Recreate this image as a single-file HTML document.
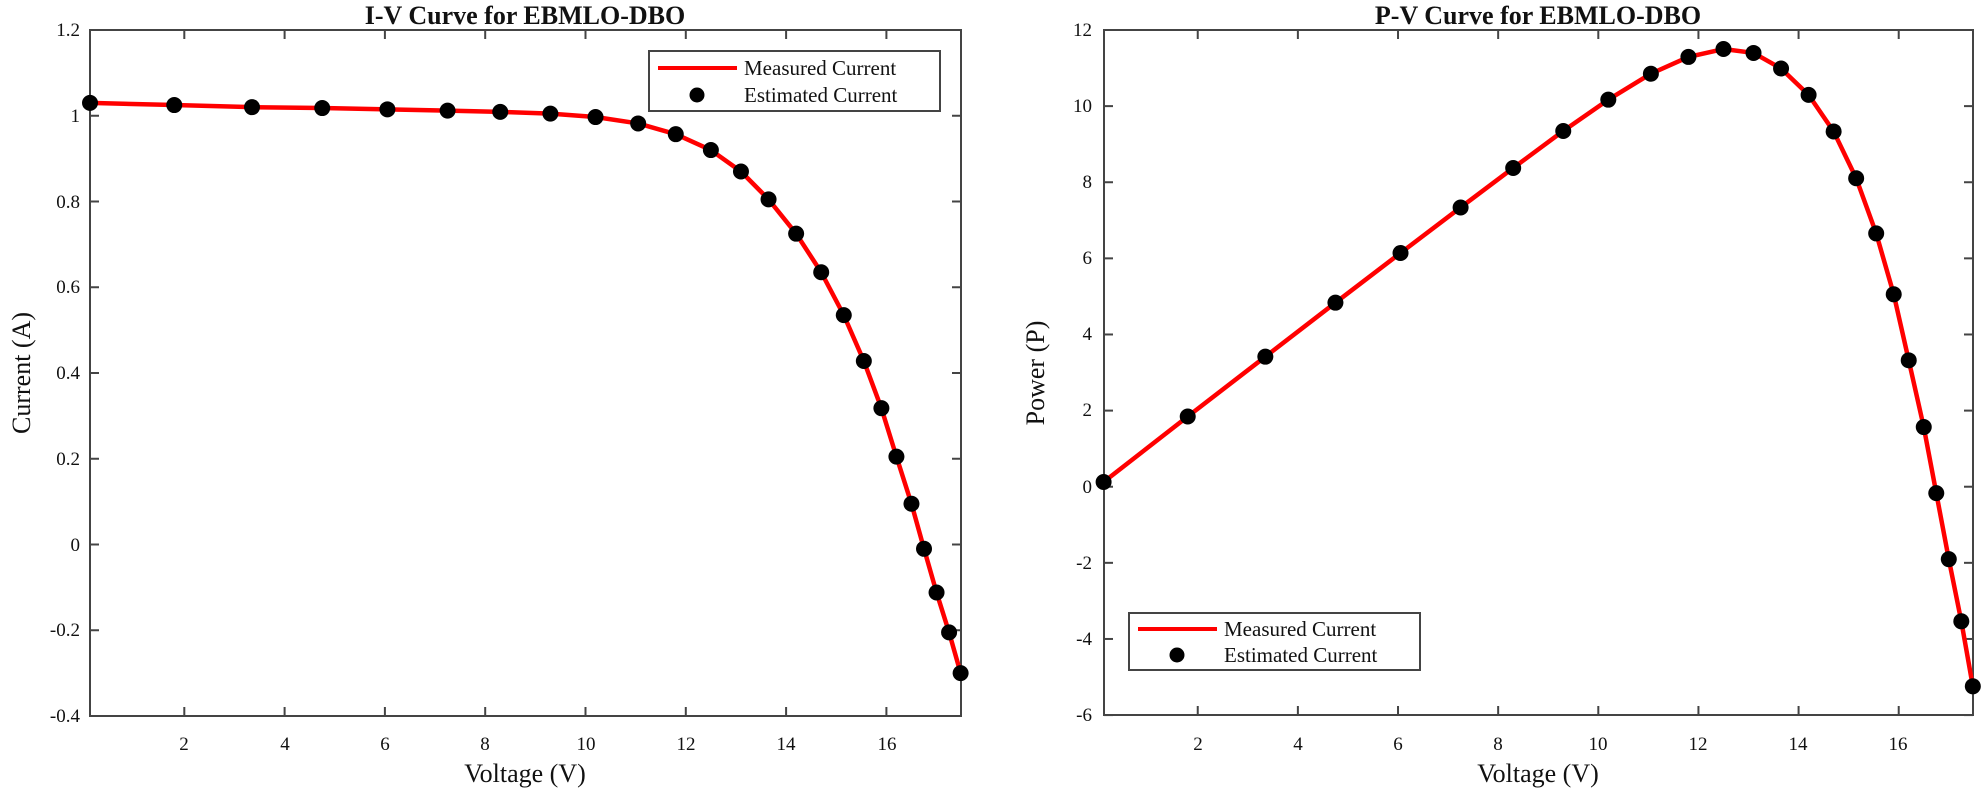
<!DOCTYPE html>
<html><head><meta charset="utf-8"><style>
html,body{margin:0;padding:0;background:#fff}
svg{display:block}
text{font-family:"Liberation Serif",serif;fill:#111}
.t{font-size:19px}
.ax{font-size:26px}
.ti{font-size:26px;font-weight:bold}
.lg{font-size:21px}
</style></head><body>
<svg id="s" width="1984" height="792" viewBox="0 0 1984 792" xmlns="http://www.w3.org/2000/svg">
<g fill="none" stroke="#444" stroke-width="2">
<rect x="90" y="30" width="871" height="686"/>
<rect x="1104" y="30" width="869" height="685"/>
</g>
<g id="ticks" stroke="#444" stroke-width="2"></g>
<g id="data"></g>
<!-- left tick labels -->
<g class="t" text-anchor="middle">
<text x="184" y="750">2</text><text x="285" y="750">4</text><text x="385" y="750">6</text><text x="485" y="750">8</text><text x="586" y="750">10</text><text x="686" y="750">12</text><text x="786" y="750">14</text><text x="887" y="750">16</text>
<text x="1198" y="750">2</text><text x="1298" y="750">4</text><text x="1398" y="750">6</text><text x="1498" y="750">8</text><text x="1598" y="750">10</text><text x="1698" y="750">12</text><text x="1798" y="750">14</text><text x="1898" y="750">16</text>
</g>
<g class="t" text-anchor="end">
<text x="80" y="36">1.2</text><text x="80" y="122">1</text><text x="80" y="208">0.8</text><text x="80" y="293">0.6</text><text x="80" y="379">0.4</text><text x="80" y="465">0.2</text><text x="80" y="551">0</text><text x="80" y="636">-0.2</text><text x="80" y="722">-0.4</text>
<text x="1092" y="36">12</text><text x="1092" y="112">10</text><text x="1092" y="188">8</text><text x="1092" y="264">6</text><text x="1092" y="340">4</text><text x="1092" y="416">2</text><text x="1092" y="493">0</text><text x="1092" y="569">-2</text><text x="1092" y="645">-4</text><text x="1092" y="721">-6</text>
</g>
<text class="ax" x="525" y="782" text-anchor="middle">Voltage (V)</text>
<text class="ax" x="1538" y="782" text-anchor="middle">Voltage (V)</text>
<text class="ax" transform="translate(30,373) rotate(-90)" text-anchor="middle">Current (A)</text>
<text class="ax" transform="translate(1044,373) rotate(-90)" text-anchor="middle">Power (P)</text>
<text class="ti" x="525" y="24" text-anchor="middle">I-V Curve for EBMLO-DBO</text>
<text class="ti" x="1538" y="24" text-anchor="middle">P-V Curve for EBMLO-DBO</text>
<!-- legends -->
<rect x="649" y="51" width="291" height="60" fill="#fff" stroke="#444" stroke-width="2"/>
<line x1="658" y1="68" x2="737" y2="68" stroke="#f00" stroke-width="4"/>
<circle cx="697" cy="95" r="7.5" fill="#000"/>
<text class="lg" x="744" y="75">Measured Current</text>
<text class="lg" x="744" y="102">Estimated Current</text>
<rect x="1129" y="613" width="291" height="57" fill="#fff" stroke="#444" stroke-width="2"/>
<line x1="1138" y1="629" x2="1217" y2="629" stroke="#f00" stroke-width="4"/>
<circle cx="1177" cy="655" r="7.5" fill="#000"/>
<text class="lg" x="1224" y="636">Measured Current</text>
<text class="lg" x="1224" y="662">Estimated Current</text>
</svg>
<script>
var V=[0.12,1.8,3.35,4.75,6.05,7.25,8.3,9.3,10.2,11.05,11.8,12.5,13.1,13.65,14.2,14.7,15.15,15.55,15.9,16.2,16.5,16.75,17.0,17.25,17.48];
var I=[1.03,1.025,1.02,1.018,1.015,1.012,1.009,1.005,0.997,0.982,0.957,0.92,0.87,0.805,0.725,0.635,0.535,0.428,0.318,0.205,0.095,-0.01,-0.112,-0.205,-0.3];
var NS="http://www.w3.org/2000/svg";
function el(n,a,p){var e=document.createElementNS(NS,n);for(var k in a)e.setAttribute(k,a[k]);p.appendChild(e);return e;}
var d=document.getElementById('data'),tk=document.getElementById('ticks');
function LX(v){return 84+50.15*v}function LY(i){return 544.5-428.75*i}
function RX(v){return 1097.6+50.07*v}function RY(p){return 30+(12-p)*38.06}
var a=[],b=[];
for(var j=0;j<V.length;j++){a.push(LX(V[j])+','+LY(I[j]));b.push(RX(V[j])+','+RY(V[j]*I[j]));}
el('polyline',{points:a.join(' '),fill:'none',stroke:'#f00','stroke-width':4.5,'stroke-linejoin':'round'},d);
el('polyline',{points:b.join(' '),fill:'none',stroke:'#f00','stroke-width':4.5,'stroke-linejoin':'round'},d);
for(j=0;j<V.length;j++){el('circle',{cx:LX(V[j]),cy:LY(I[j]),r:8,fill:'#000'},d);el('circle',{cx:RX(V[j]),cy:RY(V[j]*I[j]),r:8,fill:'#000'},d);}
for(var v=2;v<=16;v+=2){var x=LX(v);el('line',{x1:x,y1:716,x2:x,y2:707},tk);el('line',{x1:x,y1:30,x2:x,y2:39},tk);
x=RX(v);el('line',{x1:x,y1:715,x2:x,y2:706},tk);el('line',{x1:x,y1:30,x2:x,y2:39},tk);}
for(var q=-0.4;q<=1.21;q+=0.2){var y=LY(q);el('line',{x1:90,y1:y,x2:99,y2:y},tk);el('line',{x1:961,y1:y,x2:952,y2:y},tk);}
for(var p=-6;p<=12;p+=2){var y2=RY(p);el('line',{x1:1104,y1:y2,x2:1113,y2:y2},tk);el('line',{x1:1973,y1:y2,x2:1964,y2:y2},tk);}
</script>
</body></html>
